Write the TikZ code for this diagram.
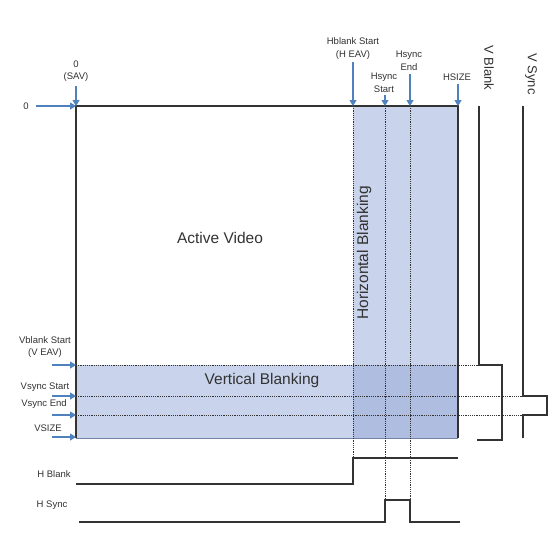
\documentclass[tikz,border=0pt]{standalone}
\usepackage{fontspec}
\setmainfont{Liberation Sans}
\usetikzlibrary{arrows.meta}
\definecolor{blfill}{RGB}{201,211,235}
\definecolor{bldark}{RGB}{174,189,224}
\definecolor{bledge}{RGB}{115,130,165}
\definecolor{arr}{RGB}{79,129,189}
\definecolor{txt}{RGB}{50,50,50}
\begin{document}
\begin{tikzpicture}[x=1pt,y=-1pt,
  lbl/.style={font=\fontsize{9.5}{12.5}\selectfont, text=txt, align=center, inner sep=0pt},
  big/.style={font=\fontsize{15.5}{17}\selectfont, text=txt, inner sep=0pt},
  side/.style={font=\fontsize{13}{14}\selectfont, text=txt, inner sep=0pt},
  ptr/.style={draw=arr, line width=1.1pt, -{Triangle[width=7pt,length=6pt]}},
  wave/.style={draw=black!80, line width=1.3pt},
  dots/.style={draw=black!80, line width=1pt, dash pattern=on 1.1pt off 1.1pt}]
\useasboundingbox (0,0) rectangle (552,560);

% blanking regions
\fill[blfill] (353,106) rectangle (458,438);
\fill[blfill] (76,365) rectangle (458,438);
\fill[bldark] (353,365) rectangle (458,438);
\draw[bledge, line width=0.9pt] (76,438) -- (458,438);

% dotted guide lines
\draw[dots] (353,106) -- (353,458);
\draw[dots] (385,106) -- (385,500);
\draw[dots] (410,106) -- (410,500);
\draw[dots] (76,365) -- (479,365);
\draw[dots] (76,396) -- (523,396);
\draw[dots] (76,415) -- (523,415);

% frame
\draw[wave] (76,438) |- (458,106) -- (458,438);

% waveforms
\draw[wave] (76,484) -- (353,484) -- (353,458) -- (458,458);
\draw[wave] (79,522) -- (385,522) -- (385,500) -- (410,500) -- (410,522) -- (460,522);
\draw[wave] (479,106) -- (479,365) -- (502,365) -- (502,440) -- (477,440);
\draw[wave] (523,106) -- (523,396) -- (547,396) -- (547,415) -- (523,415) -- (523,438);

% area titles
\node[big] (av) at (220,238) {Active Video};
\node[big] (vb) at (262,380) {Vertical Blanking};
\node[big, rotate=90] (hb) at (364,253) {Horizontal Blanking};
\node[side, rotate=-90] (vbl) at (489,68) {V Blank};
\node[side, rotate=-90] (vsy) at (531,74) {V Sync};

% targets
\coordinate (t0) at (76,106);
\coordinate (thb) at (353,106);
\coordinate (ths) at (385,106);
\coordinate (the) at (410,106);
\coordinate (tsz) at (458,106);
\coordinate (tvb) at (76,365);
\coordinate (tvs) at (76,396);
\coordinate (tve) at (76,415);
\coordinate (tvz) at (76,437);
\coordinate (svb) at (52,365);
\coordinate (svs) at (52,396);
\coordinate (sve) at (52,415);
\coordinate (svz) at (52,437);

% top labels and arrows
\node[lbl] (sav) at (76,71) {0\\(SAV)};
\node[lbl] (zero) at (26,106) {0};
\node[lbl] (hbs) at (353,48.5) {Hblank Start\\(H EAV)};
\node[lbl] (hss) at (384,83) {Hsync\\Start};
\node[lbl] (hse) at (409,61) {Hsync\\End};
\node[lbl] (hsz) at (457,77) {HSIZE};
\draw[ptr] ([yshift=-4pt]sav.south) -- (t0);
\draw[ptr, shorten <=7pt] (zero.east) -- (t0);
\draw[ptr] ([yshift=-3pt]hbs.south) -- (thb);
\draw[ptr] ([yshift=-2pt]hss.south -| ths) -- (ths);
\draw[ptr] ([yshift=-3pt]hse.south -| the) -- (the);
\draw[ptr] ([yshift=-3pt]hsz.south -| tsz) -- (tsz);

% left labels and arrows
\node[lbl] (vbsl) at (45,347) {Vblank Start\\(V EAV)};
\node[lbl] (vssl) at (45,387) {Vsync Start};
\node[lbl] (vsel) at (44,404) {Vsync End};
\node[lbl] (vszl) at (48,428) {VSIZE};
\draw[ptr] (svb) -- (tvb);
\draw[ptr] (svs) -- (tvs);
\draw[ptr] (sve) -- (tve);
\draw[ptr] (svz) -- (tvz);

% waveform labels
\node[lbl] (hbl) at (54,474) {H Blank};
\node[lbl] (hsl) at (52,505) {H Sync};
\end{tikzpicture}
\end{document}
